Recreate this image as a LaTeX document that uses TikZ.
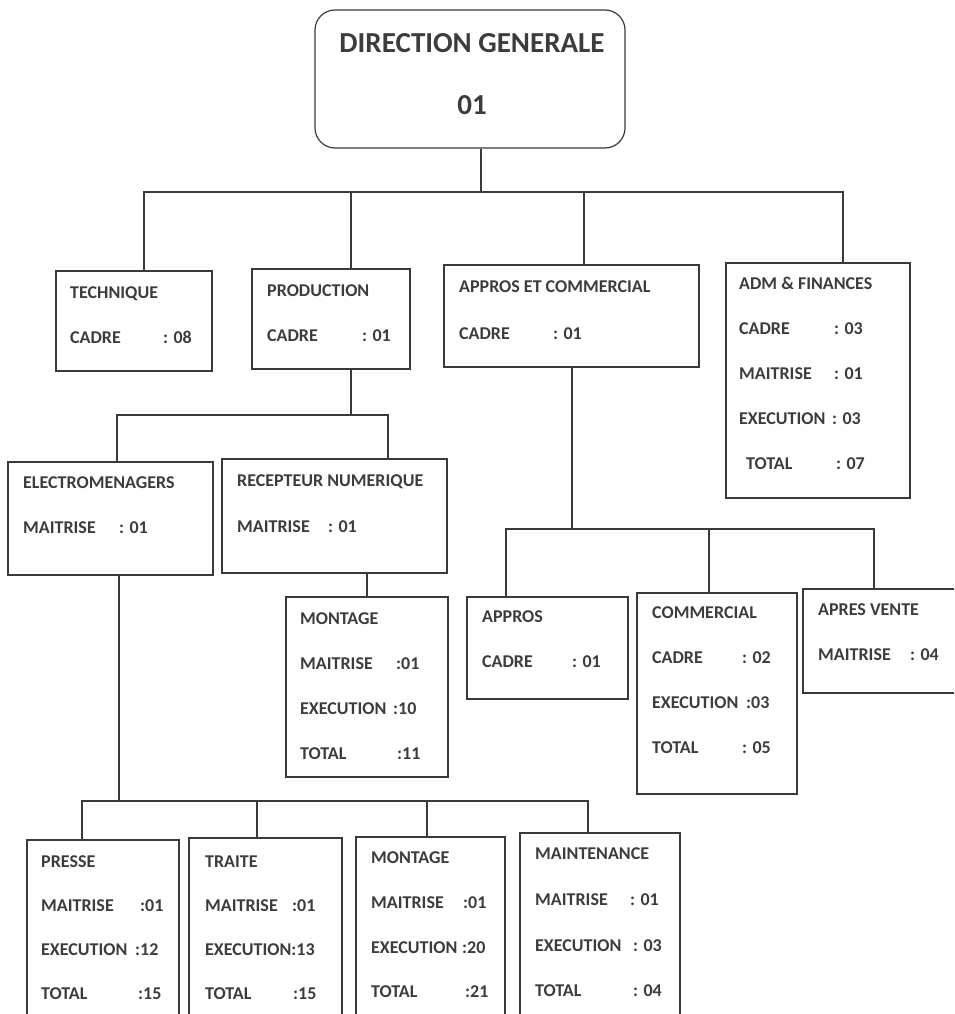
\documentclass[tikz,border=0pt]{standalone}
\usepackage{fontspec}
\setmainfont{Carlito}
\usetikzlibrary{fit}
\definecolor{ink}{HTML}{3C3C3C}
\definecolor{rule}{HTML}{3A3A3A}
\tikzset{
  unitbox/.style={draw=rule, line width=1.2pt, inner sep=0pt, fill=none},
  topbox/.style={unitbox, rounded corners=20pt},
  lbl/.style={anchor=base west, inner sep=0pt, text=ink, font=\bfseries\fontsize{18}{22}\selectfont},
  head/.style={anchor=center, inner sep=0pt, text=ink, font=\bfseries\fontsize{29}{34}\selectfont},
  link/.style={draw=rule, line width=1.2pt}
}
% \txt{name}{x}{baseline y}{text}
\newcommand\txt[4]{\node[lbl] (#1) at (#2,#3) {#4};}
\begin{document}
\begin{tikzpicture}[x=1pt,y=-1pt]
\useasboundingbox (0,0) rectangle (954,1014);
\clip (0,0) rectangle (954,1014);

% ---- units ----
\node[topbox, fit={(315,10)(625,148)}] (dg) {};
\node[unitbox, fit={(56,271)(212,371)}] (tech) {};
\node[unitbox, fit={(252,269)(410,369)}] (prod) {};
\node[unitbox, fit={(444,265)(699,367)}] (appc) {};
\node[unitbox, fit={(726,263)(910,498)}] (adm) {};
\node[unitbox, fit={(8,462)(213,575)}] (elec) {};
\node[unitbox, fit={(222,459)(447,573)}] (recn) {};
\node[unitbox, fit={(286,597)(448,777)}] (mont1) {};
\node[unitbox, fit={(467,597)(628,699)}] (appros) {};
\node[unitbox, fit={(637,593)(797,794)}] (comm) {};
\node[unitbox, fit={(803,589)(970,693)}] (apv) {};
\node[unitbox, fit={(27,840)(179,1040)}] (presse) {};
\node[unitbox, fit={(189,838)(342,1040)}] (traite) {};
\node[unitbox, fit={(356,837)(505,1040)}] (mont2) {};
\node[unitbox, fit={(520,833)(680,1040)}] (maint) {};

% ---- junctions of the branch lines ----
\coordinate (j1) at (481,192);
\coordinate (j2) at (351,415);
\coordinate (j3) at (119,801);
\coordinate (j4) at (572,529);

% ---- connectors ----
\draw[link] ([xshift=11pt]dg.south) -- (j1);
\draw[link] (j1) -| ([xshift=10pt]tech.north);
\draw[link] (j1) -| ([xshift=20pt]prod.north);
\draw[link] (j1) -| ([xshift=12.5pt]appc.north);
\draw[link] (j1) -| ([xshift=25pt]adm.north);

\draw[link] ([xshift=20pt]prod.south) -- (j2);
\draw[link] (j2) -| ([xshift=6.5pt]elec.north);
\draw[link] (j2) -| ([xshift=53.5pt]recn.north);
\draw[link] ([xshift=32.5pt]recn.south) -- (mont1.north);

\draw[link] ([xshift=8.5pt]elec.south) -- (j3);
\draw[link] (j3) -| ([xshift=-21pt]presse.north);
\draw[link] (j3) -| ([xshift=-8.5pt]traite.north);
\draw[link] (j3) -| ([xshift=-3.5pt]mont2.north);
\draw[link] (j3) -| ([xshift=-12pt]maint.north);

\draw[link] ([xshift=0.5pt]appc.south) -- (j4);
\draw[link] (j4) -| ([xshift=-41.5pt]appros.north);
\draw[link] (j4) -| ([xshift=-8pt]comm.north);
\draw[link] (j4) -| ([xshift=-12.5pt]apv.north);

% ---- texts ----
\node[head] (dg-t) at (472,43) {DIRECTION GENERALE};
\node[head] (dg-n) at (472,105) {01};

\txt{tech-t}{70}{298}{TECHNIQUE}
\txt{tech-a}{70}{343}{CADRE}   \txt{tech-av}{163}{343}{: 08}

\txt{prod-t}{267}{296}{PRODUCTION}
\txt{prod-a}{267}{341}{CADRE}  \txt{prod-av}{362}{341}{: 01}

\txt{appc-t}{459}{292}{APPROS ET COMMERCIAL}
\txt{appc-a}{459}{339}{CADRE}  \txt{appc-av}{553}{339}{: 01}

\txt{adm-t}{739}{289}{ADM \& FINANCES}
\txt{adm-a}{739}{334}{CADRE}      \txt{adm-av}{834}{334}{: 03}
\txt{adm-b}{739}{379}{MAITRISE}   \txt{adm-bv}{834}{379}{: 01}
\txt{adm-c}{739}{424}{EXECUTION}  \txt{adm-cv}{832}{424}{: 03}
\txt{adm-d}{746}{469}{TOTAL}      \txt{adm-dv}{836}{469}{: 07}

\txt{elec-t}{23}{488}{ELECTROMENAGERS}
\txt{elec-a}{23}{533}{MAITRISE}   \txt{elec-av}{119}{533}{: 01}

\txt{recn-t}{237}{486}{RECEPTEUR NUMERIQUE}
\txt{recn-a}{237}{532}{MAITRISE}  \txt{recn-av}{328}{532}{: 01}

\txt{mont1-t}{300}{624}{MONTAGE}
\txt{mont1-a}{300}{669}{MAITRISE}   \txt{mont1-av}{396}{669}{:01}
\txt{mont1-b}{300}{714}{EXECUTION}  \txt{mont1-bv}{393}{714}{:10}
\txt{mont1-c}{300}{759}{TOTAL}      \txt{mont1-cv}{397}{759}{:11}

\txt{appros-t}{482}{622}{APPROS}
\txt{appros-a}{482}{667}{CADRE}  \txt{appros-av}{572}{667}{: 01}

\txt{comm-t}{652}{618}{COMMERCIAL}
\txt{comm-a}{652}{663}{CADRE}      \txt{comm-av}{742}{663}{: 02}
\txt{comm-b}{652}{708}{EXECUTION}  \txt{comm-bv}{746}{708}{:03}
\txt{comm-c}{652}{753}{TOTAL}      \txt{comm-cv}{742}{753}{: 05}

\txt{apv-t}{818}{615}{APRES VENTE}
\txt{apv-a}{818}{660}{MAITRISE}  \txt{apv-av}{910}{660}{: 04}

\txt{presse-t}{41}{867}{PRESSE}
\txt{presse-a}{41}{911}{MAITRISE}   \txt{presse-av}{140}{911}{:01}
\txt{presse-b}{41}{955}{EXECUTION}  \txt{presse-bv}{135}{955}{:12}
\txt{presse-c}{41}{999}{TOTAL}      \txt{presse-cv}{138}{999}{:15}

\txt{traite-t}{205}{867}{TRAITE}
\txt{traite-a}{205}{911}{MAITRISE}  \txt{traite-av}{292}{911}{:01}
\txt{traite-b}{205}{955}{EXECUTION:13}
\txt{traite-c}{205}{999}{TOTAL}     \txt{traite-cv}{293}{999}{:15}

\txt{mont2-t}{371}{863}{MONTAGE}
\txt{mont2-a}{371}{908}{MAITRISE}   \txt{mont2-av}{463}{908}{:01}
\txt{mont2-b}{371}{953}{EXECUTION}  \txt{mont2-bv}{462}{953}{:20}
\txt{mont2-c}{371}{997}{TOTAL}      \txt{mont2-cv}{465}{997}{:21}

\txt{maint-t}{535}{859}{MAINTENANCE}
\txt{maint-a}{535}{905}{MAITRISE}   \txt{maint-av}{630}{905}{: 01}
\txt{maint-b}{535}{951}{EXECUTION}  \txt{maint-bv}{633}{951}{: 03}
\txt{maint-c}{535}{996}{TOTAL}      \txt{maint-cv}{633}{996}{: 04}
\end{tikzpicture}
\end{document}
